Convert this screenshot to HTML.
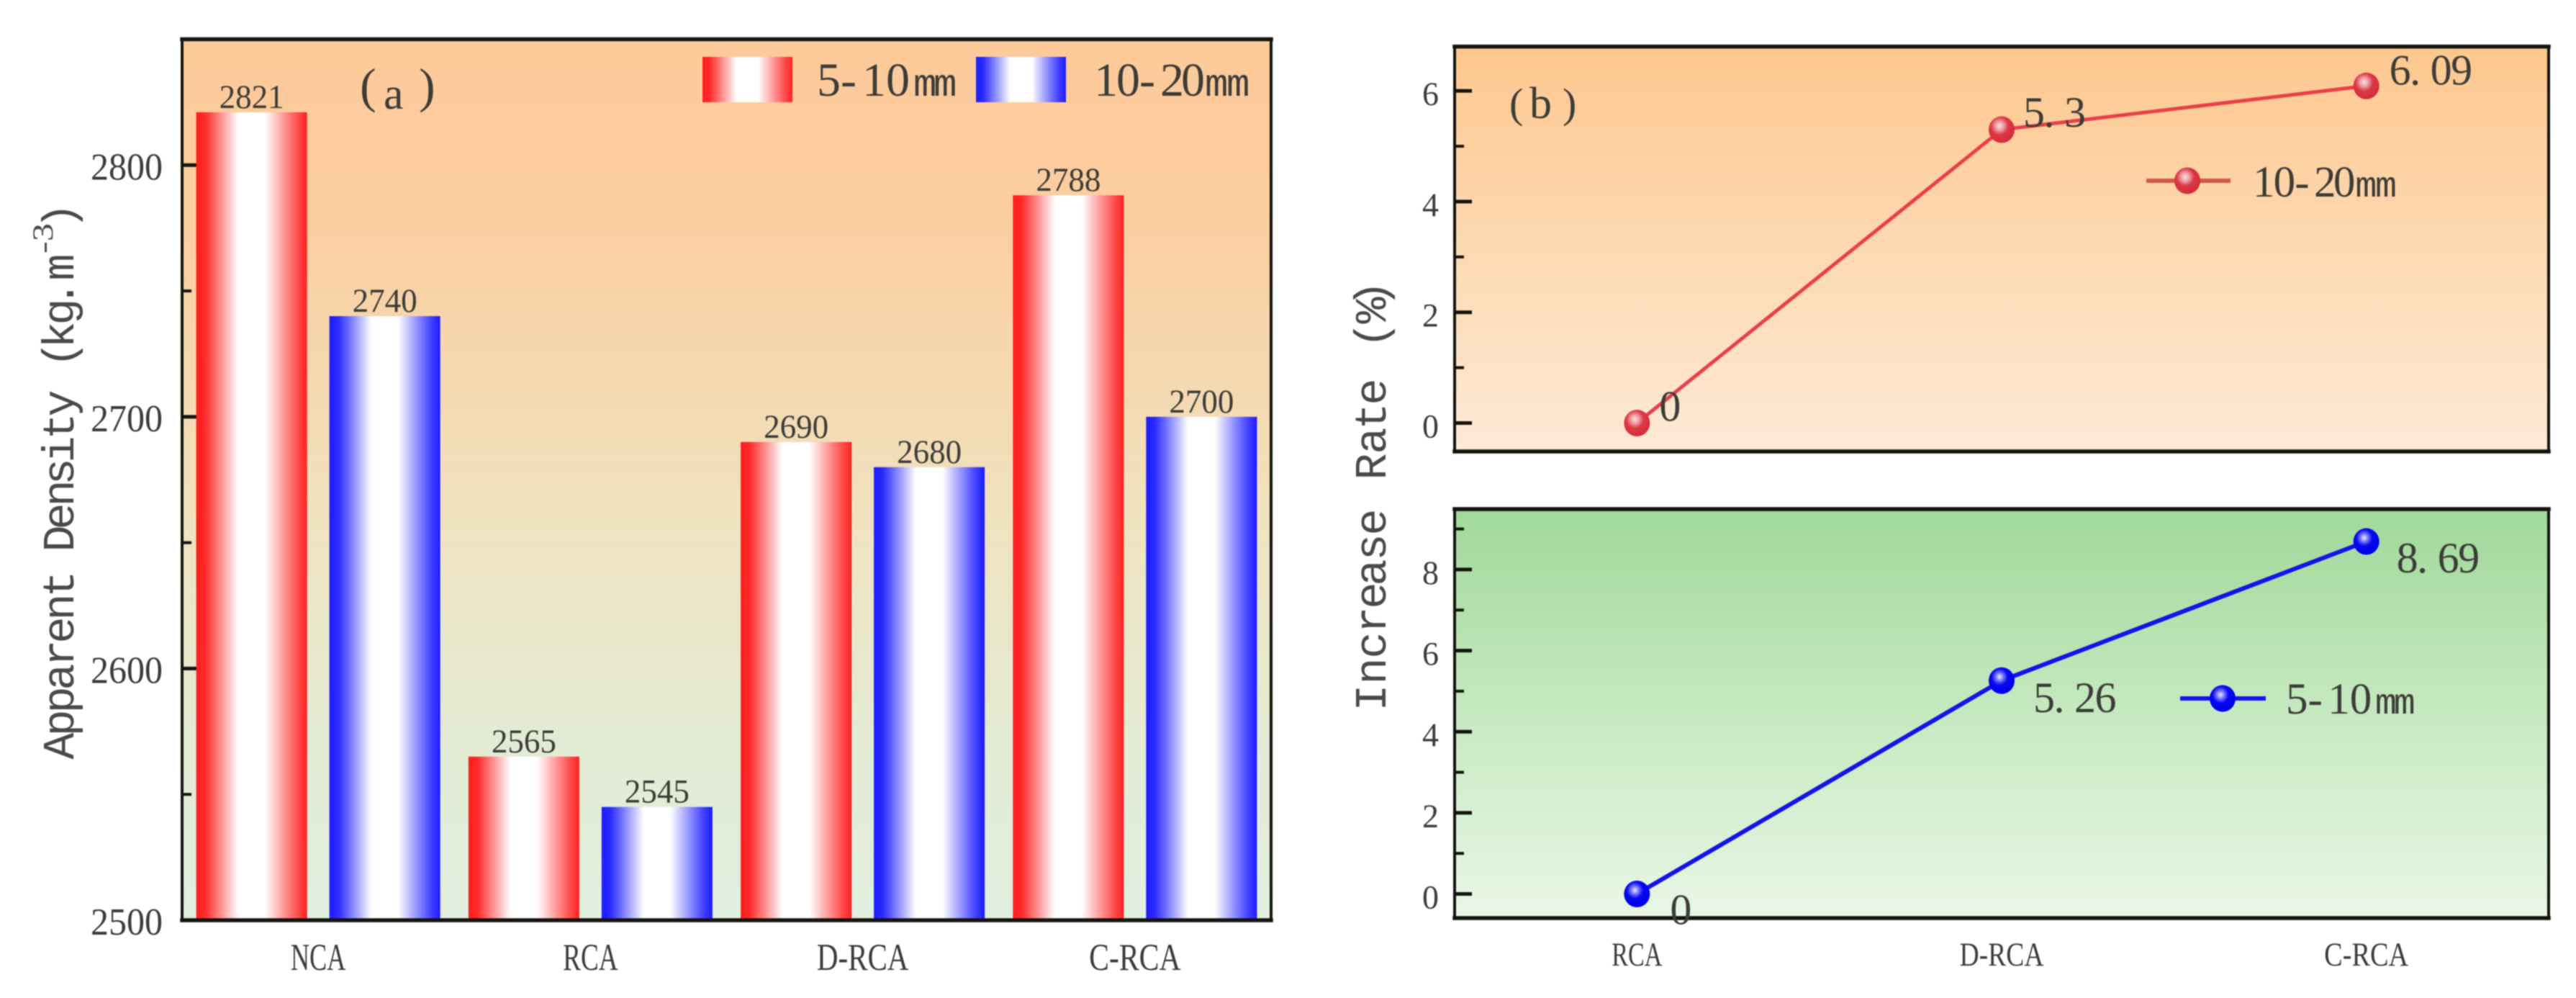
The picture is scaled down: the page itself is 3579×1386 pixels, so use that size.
<!DOCTYPE html>
<html lang="en">
<head>
<meta charset="utf-8">
<title>Apparent Density and Increase Rate</title>
<style>
html,body{margin:0;padding:0;background:#fff;width:3579px;height:1386px;overflow:hidden}
svg{display:block;filter:blur(0.8px);font-family:"Liberation Serif","Noto Serif CJK SC",serif}
text{fill:inherit}
#figure{fill:#3c3c38}
</style>
</head>
<body>
<svg id="figure" xmlns="http://www.w3.org/2000/svg" width="3579" height="1386" viewBox="0 0 3579 1386">
  <defs>
    <linearGradient id="bgA" x1="0" y1="0" x2="0" y2="1">
      <stop offset="0" stop-color="#fdca99"/>
      <stop offset="0.2" stop-color="#fbcd9f"/>
      <stop offset="0.55" stop-color="#efe2bf"/>
      <stop offset="0.8" stop-color="#e3ebd4"/>
      <stop offset="1" stop-color="#e0efdf"/>
    </linearGradient>
    <linearGradient id="bgB" x1="0" y1="0" x2="0" y2="1">
      <stop offset="0" stop-color="#fdc78f"/>
      <stop offset="0.5" stop-color="#fdd9b1"/>
      <stop offset="1" stop-color="#fde9d6"/>
    </linearGradient>
    <linearGradient id="bgC" x1="0" y1="0" x2="0" y2="1">
      <stop offset="0" stop-color="#a0d89a"/>
      <stop offset="0.5" stop-color="#c6e9c0"/>
      <stop offset="1" stop-color="#e9f6e6"/>
    </linearGradient>
    <linearGradient id="barRed" x1="0" y1="0" x2="1" y2="0">
      <stop offset="0" stop-color="#ff1c1c"/>
      <stop offset="0.08" stop-color="#ff2a2a"/>
      <stop offset="0.38" stop-color="#ffffff"/>
      <stop offset="0.62" stop-color="#ffffff"/>
      <stop offset="0.92" stop-color="#ff4a4a"/>
      <stop offset="1" stop-color="#ff2020"/>
    </linearGradient>
    <linearGradient id="barBlue" x1="0" y1="0" x2="1" y2="0">
      <stop offset="0" stop-color="#1c1cff"/>
      <stop offset="0.08" stop-color="#2a2aff"/>
      <stop offset="0.38" stop-color="#ffffff"/>
      <stop offset="0.62" stop-color="#ffffff"/>
      <stop offset="0.92" stop-color="#4040ff"/>
      <stop offset="1" stop-color="#1c1cff"/>
    </linearGradient>
    <radialGradient id="ballRed" cx="0.42" cy="0.36" r="0.62">
      <stop offset="0" stop-color="#f6e0e0"/>
      <stop offset="0.25" stop-color="#f0a0a8"/>
      <stop offset="0.55" stop-color="#da3844"/>
      <stop offset="1" stop-color="#d62c3a"/>
    </radialGradient>
    <radialGradient id="ballBlue" cx="0.42" cy="0.36" r="0.62">
      <stop offset="0" stop-color="#eeeeff"/>
      <stop offset="0.22" stop-color="#8080ff"/>
      <stop offset="0.5" stop-color="#0808f0"/>
      <stop offset="1" stop-color="#0000e8"/>
    </radialGradient>
  </defs>

  <g id="panelA"></g>
  <g id="panelB"></g>
</svg>

<script>
// ---------- chart data ----------
const barCategories = ['NCA', 'RCA', 'D-RCA', 'C-RCA'];
const density5to10 = [2821, 2565, 2690, 2788];
const density10to20 = [2740, 2545, 2680, 2700];
const densityTicks = [2500, 2600, 2700, 2800];
const densityMinorTicks = [2550, 2650, 2750];

const lineCategories = ['RCA', 'D-RCA', 'C-RCA'];
const rate10to20 = [0, 5.3, 6.09];
const rate10to20Labels = ['0', '5.3', '6.09'];
const rate5to10 = [0, 5.26, 8.69];
const rate5to10Labels = ['0', '5.26', '8.69'];
const rateTopTicks = [0, 2, 4, 6];
const rateTopMinorTicks = [1, 3, 5];
const rateBottomTicks = [0, 2, 4, 6, 8];
const rateBottomMinorTicks = [1, 3, 5, 7, 9];

// ---------- layout ----------
const NS = 'http://www.w3.org/2000/svg';
const MONO = '"Liberation Mono",monospace';
const panelA = document.getElementById('panelA');
const panelB = document.getElementById('panelB');

const boxA = {l: 253, r: 1766, t: 54.5, b: 1278, min: 2500, max: 2850};
const boxTop = {l: 2021, r: 3541, t: 64.7, b: 627, min: -0.514, max: 6.8};
const boxBot = {l: 2021, r: 3541, t: 707, b: 1275, min: -0.595, max: 9.49};

function yScale(box, v) {
  return box.b - (v - box.min) / (box.max - box.min) * (box.b - box.t);
}
function bandCenter(box, n, i) {
  return box.l + (box.r - box.l) / n * (i + 0.5);
}

function make(parent, tag, attrs, name) {
  const el = document.createElementNS(NS, tag);
  for (const k in attrs) el.setAttribute(k, attrs[k]);
  
  
  parent.appendChild(el);
  return el;
}
function label(parent, str, x, y, size, len, name, extra) {
  const attrs = {x: x, y: y, 'font-size': size};
  if (len) {
    attrs.textLength = len;
    attrs.lengthAdjust = 'spacingAndGlyphs';
  }
  if (extra) for (const k in extra) attrs[k] = extra[k];
  const el = make(parent, 'text', attrs, name);
  el.textContent = str;
  return el;
}
function span(textEl, str, attrs) {
  const t = document.createElementNS(NS, 'tspan');
  for (const k in attrs) t.setAttribute(k, attrs[k]);
  t.textContent = str;
  textEl.appendChild(t);
}
// Legend label: serif digits, narrow half-width "mm" as in the source font.
function legendLabel(parent, digits, x, y, size, advances, name) {
  const el = make(parent, 'text', {'font-size': size, y: y}, name);
  const k = size / 66;
  const xs = advances.map(function (a) { return x + a * k; });
  span(el, digits, {x: xs.slice(0, digits.length).join(' '), y: y});
  span(el, 'mm', {x: xs.slice(digits.length).join(' '), y: y, style: 'font-family:' + MONO + ';font-size:' + (54 * k) + 'px'});
}
// Rotated half-width axis title: each character is centred on a screen-y slot.
function verticalTitle(parent, str, baseX, centers, size, name) {
  const cell = size * 0.6;
  const y0 = 1100;
  const xs = centers.map(function (c) { return baseX + (y0 - c) - cell / 2; });
  const el = make(parent, 'text', {
    x: xs.join(' '), y: y0, 'font-size': size,
    style: 'font-family:' + MONO + ';fill:#4a4a4a',
    transform: 'rotate(-90 ' + baseX + ' ' + y0 + ')'
  }, name);
  el.textContent = str;
  return el;
}
function frame(parent, box, fill, name) {
  make(parent, 'rect', {x: box.l, y: box.t, width: box.r - box.l, height: box.b - box.t, fill: fill}, name + '-background');
}
function frameLines(parent, box, name, wt, ws) {
  const col = '#15140f';
  make(parent, 'rect', {x: box.l - wt / 2, y: box.t - wt / 2, width: box.r - box.l + wt, height: wt, fill: col}, name + '-top-border');
  make(parent, 'rect', {x: box.l - wt / 2, y: box.b - wt / 2, width: box.r - box.l + wt, height: wt, fill: col}, name + '-bottom-border');
  make(parent, 'rect', {x: box.l - ws / 2, y: box.t, width: ws, height: box.b - box.t, fill: col}, name + '-left-border');
  make(parent, 'rect', {x: box.r - ws / 2, y: box.t, width: ws, height: box.b - box.t, fill: col}, name + '-right-border');
}
function yTicks(parent, box, ticks, minors, labelRight, charW, size, name) {
  const col = '#15140f';
  ticks.forEach(function (v) {
    const y = yScale(box, v);
    make(parent, 'rect', {x: box.l, y: y - 2.5, width: 24, height: 5, fill: col}, name + '-major-tick');
    const s = String(v);
    const w = s.length * charW;
    label(parent, s, labelRight - w, y + 20, size, w, name + '-tick-label');
  });
  minors.forEach(function (v) {
    const y = yScale(box, v);
    make(parent, 'rect', {x: box.l, y: y - 2, width: 13, height: 4, fill: col}, name + '-minor-tick');
  });
}

// ---------- panel (a): bars ----------
frame(panelA, boxA, 'url(#bgA)', 'density-plot');
yTicks(panelA, boxA, densityTicks, densityMinorTicks, 226, 25, 53, 'density-axis');

const barW = 154;
const barGap = 31;
barCategories.forEach(function (cat, i) {
  const c = bandCenter(boxA, barCategories.length, i);
  const xRed = c - barGap / 2 - barW;
  const xBlue = c + barGap / 2;
  const yRed = yScale(boxA, density5to10[i]);
  const yBlue = yScale(boxA, density10to20[i]);
  make(panelA, 'rect', {x: xRed, y: yRed, width: barW, height: boxA.b - yRed, fill: 'url(#barRed)'}, 'bar-5-10mm');
  make(panelA, 'rect', {x: xBlue, y: yBlue, width: barW, height: boxA.b - yBlue, fill: 'url(#barBlue)'}, 'bar-10-20mm');
  label(panelA, String(density5to10[i]), xRed + barW / 2 - 45, yRed - 6, 47, 90, 'bar-value-5-10mm');
  label(panelA, String(density10to20[i]), xBlue + barW / 2 - 45, yBlue - 6, 47, 90, 'bar-value-10-20mm');
  const w = cat.length * 25.5;
  label(panelA, cat, c - w / 2, 1347, 53, w, 'density-category-label');
});
frameLines(panelA, boxA, 'density-plot', 5.5, 4);

const tagA = make(panelA, 'text', {'font-size': 68}, 'panel-a-label');
span(tagA, '(', {x: 500, y: 142});
span(tagA, 'a', {x: 533, y: 151, 'font-size': 62});
span(tagA, ')', {x: 582, y: 142});

make(panelA, 'rect', {x: 976, y: 79, width: 125, height: 63, fill: 'url(#barRed)'}, 'legend-swatch-5-10mm');
legendLabel(panelA, '5-10', 1135, 133, 66, [0, 33, 63, 96, 134, 162], 'legend-label-5-10mm');
make(panelA, 'rect', {x: 1356, y: 79, width: 125, height: 63, fill: 'url(#barBlue)'}, 'legend-swatch-10-20mm');
legendLabel(panelA, '10-20', 1520, 133, 66, [0, 31, 63, 92, 121, 154, 184], 'legend-label-10-20mm');

const densityTitleSlots = [1036, 1004, 972, 940, 907, 875, 843, 811, 780, 748, 717, 685, 655, 624, 592, 560, 526, 492, 465, 433, 408, 390, 371];
verticalTitle(panelA, 'Apparent Density (kg. m', 102, densityTitleSlots, 62, 'density-axis-title');
label(panelA, '-3', 73, 352, 40, 42, 'density-axis-title-exponent', {transform: 'rotate(-90 73 352)', style: 'fill:#4a4a4a'});
verticalTitle(panelA, ')', 102, [300], 62, 'density-axis-title-close');

// ---------- panel (b): lines ----------
function lineChart(box, values, printed, cats, stroke, lineW, ball, offsets, name) {
  frame(panelB, box, box.fill, name + '-plot');
  yTicks(panelB, box, box.ticks, box.minors, 1999, 23, 47, name + '-axis');
  const pts = values.map(function (v, i) {
    return [bandCenter(box, cats.length, i), yScale(box, v)];
  });
  make(panelB, 'polyline', {
    points: pts.map(function (p) { return p.join(','); }).join(' '),
    fill: 'none', stroke: stroke, 'stroke-width': lineW, 'stroke-linejoin': 'round'
  }, name + '-line');
  pts.forEach(function (p) {
    make(panelB, 'ellipse', {cx: p[0], cy: p[1], rx: 18, ry: 18.5, fill: ball}, name + '-point');
  });
  frameLines(panelB, box, name + '-plot', 5.5, 4);
  pts.forEach(function (p, i) {
    const s = printed[i];
    const xs = s.split('').map(function (ch, j) { return p[0] + offsets[i][0] + j * 28.5; });
    label(panelB, s, xs.join(' '), p[1] + offsets[i][1], 60, 0, name + '-value-label');
  });
}

boxTop.fill = 'url(#bgB)';
boxTop.ticks = rateTopTicks;
boxTop.minors = rateTopMinorTicks;
boxBot.fill = 'url(#bgC)';
boxBot.ticks = rateBottomTicks;
boxBot.minors = rateBottomMinorTicks;

const topLabelShift = [[31, -3], [30, -4], [32, -2]];
const bottomLabelShift = [[46, 42], [44, 44], [42, 43]];
lineChart(boxTop, rate10to20, rate10to20Labels, lineCategories, '#e8404a', 5, 'url(#ballRed)', topLabelShift, 'rate-10-20mm');
lineChart(boxBot, rate5to10, rate5to10Labels, lineCategories, '#1414e6', 6, 'url(#ballBlue)', bottomLabelShift, 'rate-5-10mm');

lineCategories.forEach(function (cat, i) {
  const c = bandCenter(boxBot, lineCategories.length, i);
  const w = cat.length * 23.4;
  label(panelB, cat, c - w / 2, 1341, 47, w, 'rate-category-label');
});

const tagB = make(panelB, 'text', {'font-size': 58}, 'panel-b-label');
span(tagB, '(', {x: 2097, y: 163});
span(tagB, 'b', {x: 2125, y: 164, 'font-size': 62});
span(tagB, ')', {x: 2171, y: 163});

make(panelB, 'line', {x1: 2982, y1: 251, x2: 3099, y2: 251, stroke: '#d2584e', 'stroke-width': 6}, 'legend-line-10-20mm');
make(panelB, 'ellipse', {cx: 3039, cy: 251, rx: 18, ry: 18.5, fill: 'url(#ballRed)'}, 'legend-marker-10-20mm');
legendLabel(panelB, '10-20', 3130, 273, 61, [0, 31, 63, 92, 121, 154, 184], 'legend-label-10-20mm');

make(panelB, 'line', {x1: 3029, y1: 970, x2: 3148, y2: 970, stroke: '#1414e6', 'stroke-width': 6}, 'legend-line-5-10mm');
make(panelB, 'ellipse', {cx: 3088, cy: 970, rx: 18, ry: 18.5, fill: 'url(#ballBlue)'}, 'legend-marker-5-10mm');
legendLabel(panelB, '5-10', 3176, 991, 61, [0, 33, 63, 96, 134, 162], 'legend-label-5-10mm');

const rateTitleSlots = [969, 932, 896, 861, 827, 795, 760, 725, 686, 648, 612, 578, 544, 505, 465, 431, 408];
verticalTitle(panelB, 'Increase Rate (%)', 1925, rateTitleSlots, 62, 'rate-axis-title');
</script>
</body>
</html>
